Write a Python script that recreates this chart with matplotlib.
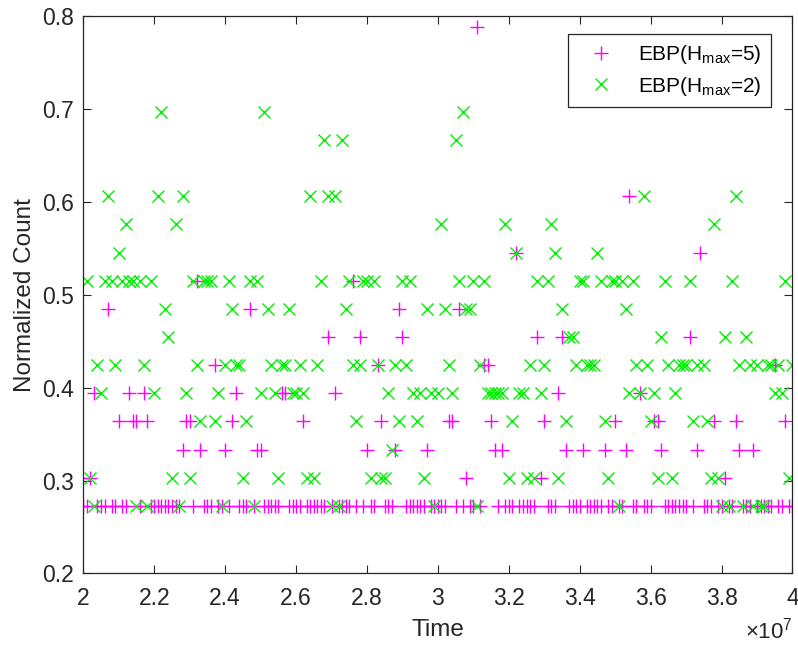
import numpy as np
import matplotlib
matplotlib.use('Agg')
import matplotlib.pyplot as plt
from matplotlib.ticker import FuncFormatter

# sampling grid of the trace: one sample every 1e5 time units
t_start = 2e7
t_step = 1e5
n_norm = 33  # raw counts are divided by this

nan = np.nan

# raw counts per sample, EBP with H_max = 5
hmax5_count = [
    9, 9, 10, 13, 9, 9, 9, 16, 9, 9, 12, 9, 9, 13, 12, 12, 9, 13, 12, 9,
    9, 9, 9, 9, 9, 9, 9, 9, 11, 12, 12, 9, 17, 11, 9, 9, 9, 14, 9, 9,
    11, 9, 12, 13, 9, 9, 9, 16, 9, 11, 11, 9, 9, 9, 9, 9, 13, 13, 9, 9,
    9, 9, 12, 9, 9, 9, 9, 9, 9, 15, 9, 13, 9, 9, 9, 9, 17, 9, 15, 9,
    11, 9, 9, 14, 12, 9, 9, 9, 11, 16, 15, 9, 9, 9, 9, 9, 9, 11, 9, 9,
    9, 9, 9, 12, 12, 9, 16, 9, 10, 9, 9, 26, 9, 14, 14, 12, 11, 9, 11, 9,
    9, 9, 18, 9, 9, 9, 9, 9, 15, 10, 12, 9, 9, 9, 13, 15, 11, 9, 9, 9,
    9, 11, 9, 9, 9, 9, 9, 11, 9, 9, 12, 9, 9, 11, 20, 9, 9, 13, 9, 9,
    9, 12, 12, 11, 9, 9, 9, 9, 9, 9, 9, 15, 9, 11, 18, 9, 9, 9, 12, 9,
    9, 10, 9, 9, 12, 11, 9, 9, 9, 11, 9, 9, 9, 9, 9, 14, 9, 9, 12, 9, 9,
]

# raw counts per sample, EBP with H_max = 2
hmax2_count = [
    nan, 17, 10, 9, 14, 13, 17, 20, 17, 14, 18, 17, 19, 17, 17, 9, 17, 14, 9, 17,
    13, 20, 23, 16, 15, 10, 19, 9, 20, 13, 10, 17, 14, 12, 17, 17, 17, 12, 13, 9,
    14, 17, 16, 14, 14, 10, 12, 17, 9, 17, 13, 23, 16, 14, 13, 10, 14, 14, 16, 13,
    13, 14, 13, 10, 20, 10, 14, 17, 22, 20, 9, 20, 9, 22, 16, 17, 14, 12, 14, 17,
    17, 10, 17, 14, 10, 10, 13, 11, 14, 12, 17, 14, 17, 13, 12, 13, 10, 16, 13, 9,
    13, 19, 16, 14, 13, 22, 17, 23, 16, 16, 17, 9, 14, 17, 13, 13, 13, 13, 13, 19,
    10, 12, 18, 13, 13, 10, 14, 10, 17, 13, 14, 17, 19, 18, 10, 16, 12, 15, 15, 14,
    17, 17, 14, 14, 14, 18, 17, 12, 10, 17, 17, 9, 17, 16, 13, 17, 14, 13, 20, 14,
    12, 13, 10, 15, 17, 14, 10, 13, 14, 14, 14, 17, 12, 14, nan, 14, 12, 10, 19, 10,
    9, 15, 9, 17, 20, 14, 9, 15, 14, 9, 14, 9, 9, 14, 14, 13, 14, 13, 17, 10, 14,
]

time = t_start + t_step * np.arange(len(hmax5_count))
y5 = np.array(hmax5_count, dtype=float) / n_norm
y2 = np.array(hmax2_count, dtype=float) / n_norm

plt.rcParams['font.family'] = ['Liberation Sans', 'DejaVu Sans']
plt.rcParams['mathtext.fontset'] = 'custom'
plt.rcParams['mathtext.rm'] = 'Liberation Sans'
plt.rcParams['mathtext.it'] = 'Liberation Sans'

axcol = '#262626'

fig = plt.figure(figsize=(7.98, 6.48), dpi=100)
ax = fig.add_axes([0.1044, 0.115, 0.8887, 0.8603])

ax.plot(time, y5, linestyle='none', marker='+', color='#ff00ff',
        markersize=9.5, markeredgewidth=1.0, label=r'EBP(H$_{\mathrm{max}}$=5)')
ax.plot(time, y2, linestyle='none', marker='x', color='#00ee00',
        markersize=8.0, markeredgewidth=1.0, label=r'EBP(H$_{\mathrm{max}}$=2)')

ax.set_xlim(2e7, 4e7)
ax.set_ylim(0.2, 0.8)
ax.set_xticks(np.arange(2e7, 4e7 + 1, 0.2e7))
ax.set_yticks(np.arange(0.2, 0.81, 0.1))

# x ticks in units of 1e7, exponent written separately at the corner
ax.xaxis.set_major_formatter(FuncFormatter(lambda v, p: f'{v / 1e7:g}'))
ax.yaxis.set_major_formatter(FuncFormatter(lambda v, p: f'{v:g}'))
fig.text(0.9931, 0.014, r'$\times$10$^{7}$', ha='right', va='baseline',
         fontsize=16, color=axcol)

for s in ax.spines.values():
    s.set_color(axcol)
    s.set_linewidth(0.9)
ax.tick_params(direction='in', top=True, right=True, length=5.5, width=0.8,
               colors=axcol, labelsize=16.5)
ax.tick_params(axis='x', pad=10)
ax.tick_params(axis='y', pad=7)

ax.set_xlabel('Time', fontsize=17.5, color=axcol, labelpad=6)
ax.set_ylabel('Normalized Count', fontsize=17.5, color=axcol, labelpad=4)

leg = ax.legend(loc='upper right', bbox_to_anchor=(0.9697, 0.9677),
                borderaxespad=0, fontsize=15, fancybox=False, framealpha=1,
                edgecolor=axcol, handletextpad=0.7, borderpad=0.45,
                labelspacing=0.4, handlelength=2.2)
leg.get_frame().set_linewidth(0.9)

fig.savefig('out.png', dpi=100)
